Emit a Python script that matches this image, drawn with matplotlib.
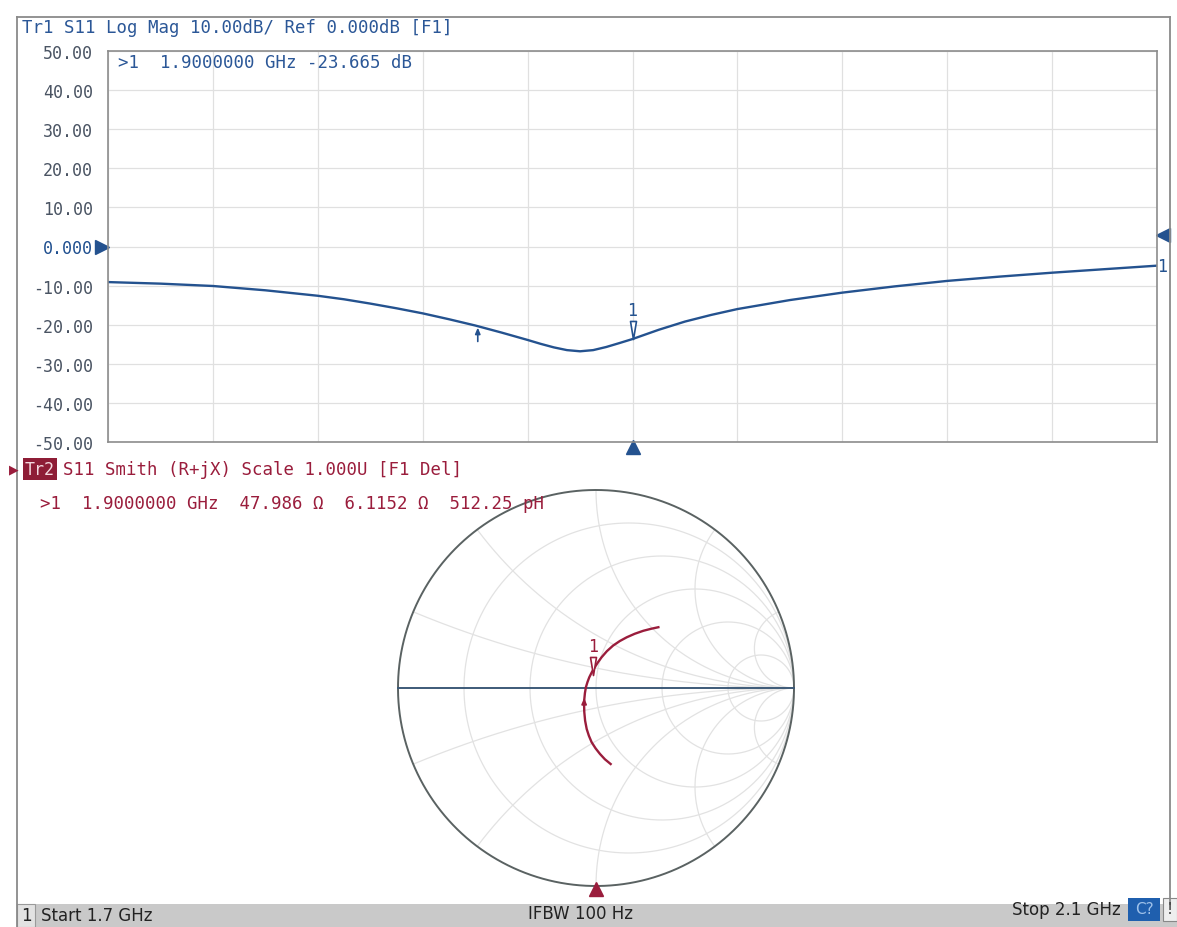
import numpy as np
import matplotlib
matplotlib.use("Agg")
import matplotlib.pyplot as plt
from matplotlib.path import Path
from matplotlib.patches import Rectangle
from matplotlib import transforms as mtransforms

# ---------------- data ----------------
freq_ghz = [1.70, 1.72, 1.74, 1.76, 1.78, 1.79, 1.80, 1.81, 1.82, 1.83, 1.84,
            1.85, 1.86, 1.865, 1.87, 1.875, 1.88, 1.885, 1.89, 1.895,
            1.90, 1.91, 1.92, 1.93, 1.94, 1.96, 1.98, 2.00, 2.02, 2.04,
            2.06, 2.08, 2.10]
s11_db = [-9.1, -9.5, -10.1, -11.2, -12.6, -13.5, -14.6, -15.8, -17.1, -18.6, -20.2,
          -22.0, -23.9, -24.9, -25.8, -26.5, -26.8, -26.5, -25.7, -24.7,
          -23.665, -21.3, -19.2, -17.5, -16.0, -13.7, -11.8, -10.2, -8.8, -7.7,
          -6.7, -5.8, -4.9]

y_ticks = [50, 40, 30, 20, 10, 0, -10, -20, -30, -40, -50]
y_tick_labels = ["50.00", "40.00", "30.00", "20.00", "10.00", "0.000",
                 "-10.00", "-20.00", "-30.00", "-40.00", "-50.00"]

# Smith trace (reflection coefficient), start -> stop
gamma_re = [0.074, 0.045, 0.020, -0.002, -0.022, -0.036, -0.047, -0.055, -0.059,
            -0.060, -0.059, -0.056, -0.051, -0.043, -0.034, -0.021, -0.006,
            0.010, 0.028, 0.055, 0.086, 0.120, 0.155, 0.196, 0.239, 0.278, 0.315]
gamma_im = [-0.384, -0.360, -0.333, -0.305, -0.274, -0.241, -0.207, -0.165, -0.123,
            -0.090, -0.056, -0.026, 0.004, 0.030, 0.054, 0.080, 0.105,
            0.130, 0.155, 0.186, 0.214, 0.237, 0.256, 0.274, 0.289, 0.299, 0.307]

marker_freq = 1.90
marker_db = -23.665
marker_R = 47.986
marker_X = 6.1152
z0 = 50.0
start_freq, stop_freq = 1.7, 2.1
arrow_freq = 1.841
arrow_gamma = (-0.060, -0.085)
ref_level_right = 2.9

smith_r = [0.2, 0.5, 1.0, 2.0, 5.0]
smith_x = [0.2, 0.5, 1.0, 2.0, 5.0, -0.2, -0.5, -1.0, -2.0, -5.0]

# ---------------- style ----------------
W, H = 1177, 928
BLUE = "#24528f"
BLUE_TXT = "#2b5797"
MAROON = "#9a1d3c"
MONO = ["DejaVu Sans Mono"]
NARROW = ["Liberation Sans Narrow", "DejaVu Sans"]

fig = plt.figure(figsize=(W / 100, H / 100), dpi=100)
fig.patch.set_facecolor("white")


def fx(x):
    return x / W


def fy(y):
    return 1 - y / H


# outer frame
fig.add_artist(plt.Line2D([fx(17), fx(17)], [fy(18), fy(928)], color="#8a8a8a", lw=1.3))
fig.add_artist(plt.Line2D([fx(17), fx(1170)], [fy(18), fy(18)], color="#8a8a8a", lw=1.3))
fig.add_artist(plt.Line2D([fx(1170), fx(1170)], [fy(18), fy(905)], color="#8a8a8a", lw=1.3))

# ---------------- upper Log Mag chart ----------------
ax1 = fig.add_axes([fx(108), fy(443), fx(1157) - fx(108), fy(52) - fy(443)])
ax1.set_xlim(start_freq, stop_freq)
ax1.set_ylim(-50, 50)
ax1.set_xticks(np.linspace(start_freq, stop_freq, 11))
ax1.set_yticks(y_ticks)
ax1.set_yticklabels(y_tick_labels, family=MONO, fontsize=12, color="#4a5463")
ax1.tick_params(length=0, labelbottom=False, pad=11)
for lbl, v in zip(ax1.get_yticklabels(), y_ticks):
    if v == 0:
        lbl.set_color("#1f4f8f")
ax1.grid(True, color="#e0e0e0", lw=0.9)
for s in ax1.spines.values():
    s.set_color("#8c8c8c")
    s.set_linewidth(1.2)

ax1.plot(freq_ghz, s11_db, color=BLUE, lw=1.7, solid_joinstyle="round")

# marker 1
tri = Path([(-0.33, 1.0), (0.33, 1.0), (0.0, -1.0), (-0.33, 1.0)],
           [Path.MOVETO, Path.LINETO, Path.LINETO, Path.CLOSEPOLY])
off = mtransforms.offset_copy(ax1.transData, fig=fig, x=0, y=9, units="dots")
ax1.plot([marker_freq], [marker_db], marker=tri, markersize=13, mfc="white",
         mec=BLUE, mew=1.2, transform=off, clip_on=False)
off2 = mtransforms.offset_copy(ax1.transData, fig=fig, x=0, y=20, units="dots")
ax1.text(marker_freq, marker_db, "1", transform=off2, ha="center", va="bottom",
         color=BLUE, fontsize=12, family=MONO)
# small arrow below trace
av = np.interp(arrow_freq, freq_ghz, s11_db)
ax1.annotate("", xy=(arrow_freq, av), xycoords="data",
             xytext=(0, -11), textcoords="offset points",
             arrowprops=dict(arrowstyle="-|>,head_length=0.35,head_width=0.15",
                             color=BLUE, lw=1.2, shrinkA=0, shrinkB=1))
# trace label at right
ax1.text(stop_freq, s11_db[-1], "1", ha="left", va="center", color=BLUE,
         fontsize=12, family=MONO, clip_on=False)
# reference triangles
ax1.plot([-0.006], [0], marker=">", markersize=10, color=BLUE,
         transform=ax1.get_yaxis_transform(), clip_on=False)
ax1.plot([1.006], [ref_level_right], marker="<", markersize=10, color=BLUE,
         transform=ax1.get_yaxis_transform(), clip_on=False)
ax1.plot([marker_freq], [-0.013], marker="^", markersize=10, color=BLUE,
         transform=ax1.get_xaxis_transform(), clip_on=False)

# header texts
fig.text(fx(22), fy(28), "Tr1 S11 Log Mag 10.00dB/ Ref 0.000dB [F1]",
         family=MONO, fontsize=12.5, color=BLUE_TXT, va="center", ha="left")
fig.text(fx(118), fy(63), ">1  1.9000000 GHz -23.665 dB",
         family=MONO, fontsize=12.5, color=BLUE_TXT, va="center", ha="left")

# ---------------- Smith chart ----------------
fig.text(fx(9), fy(470), "▶", family=["DejaVu Sans"], fontsize=9, color=MAROON,
         va="center", ha="left")
fig.text(fx(25), fy(470), "Tr2", family=MONO, fontsize=12, color="#f3d9df",
         va="center", ha="left",
         bbox=dict(facecolor="#8e1d36", edgecolor="none", pad=1.5))
fig.text(fx(63), fy(470), "S11 Smith (R+jX) Scale 1.000U [F1 Del]",
         family=MONO, fontsize=12.5, color=MAROON, va="center", ha="left")
fig.text(fx(40), fy(504), ">1  1.9000000 GHz  47.986 Ω  6.1152 Ω  512.25 pH",
         family=MONO, fontsize=12.5, color=MAROON, va="center", ha="left")

ax2 = fig.add_axes([fx(398), fy(887), 396 / W, 396 / H])
ax2.set_xlim(-1, 1)
ax2.set_ylim(-1, 1)
ax2.axis("off")

t = np.linspace(0, 2 * np.pi, 400)
for r in smith_r:
    c, rad = r / (1 + r), 1 / (1 + r)
    ax2.plot(c + rad * np.cos(t), rad * np.sin(t), color="#e2e2e2", lw=0.9)
rr = np.concatenate([[0], np.logspace(-3, 3, 400)])
for xv in smith_x:
    z = rr + 1j * xv
    g = (z - 1) / (z + 1)
    ax2.plot(g.real, g.imag, color="#e2e2e2", lw=0.9)

ax2.plot(np.cos(t), np.sin(t), color="#5a6262", lw=1.4, clip_on=False)
ax2.plot([-1, 1], [0, 0], color="#3d5a78", lw=1.4, clip_on=False)

ax2.plot(gamma_re, gamma_im, color=MAROON, lw=1.7, solid_joinstyle="round")

zm = complex(marker_R, marker_X) / z0
gm = (zm - 1) / (zm + 1)
offs = mtransforms.offset_copy(ax2.transData, fig=fig, x=0, y=9, units="dots")
ax2.plot([gm.real], [gm.imag], marker=tri, markersize=13, mfc="white",
         mec=MAROON, mew=1.2, transform=offs, clip_on=False)
offs2 = mtransforms.offset_copy(ax2.transData, fig=fig, x=0, y=20, units="dots")
ax2.text(gm.real, gm.imag, "1", transform=offs2, ha="center", va="bottom",
         color=MAROON, fontsize=12, family=MONO)
ax2.annotate("", xy=(arrow_gamma[0], arrow_gamma[1] + 0.035), xycoords="data",
             xytext=(arrow_gamma[0], arrow_gamma[1] - 0.03), textcoords="data",
             arrowprops=dict(arrowstyle="-|>,head_length=0.35,head_width=0.15",
                             color=MAROON, lw=1.2, shrinkA=0, shrinkB=0))

sx = -1 + 2 * (marker_freq - start_freq) / (stop_freq - start_freq)
ax2.plot([sx], [-1.015], marker="^", markersize=10, color=MAROON, clip_on=False)

# ---------------- status bar ----------------
fig.add_artist(Rectangle((fx(17), 0), 1 - fx(17), fy(905), transform=fig.transFigure,
                         facecolor="#c9c9c9", edgecolor="none"))
fig.add_artist(Rectangle((fx(17), 0), fx(35) - fx(17), fy(905), transform=fig.transFigure,
                         facecolor="#e2e2e2", edgecolor="#9a9a9a", lw=0.8))
fig.text(fx(26), fy(916), "1", family=NARROW, fontsize=12, color="#222222",
         ha="center", va="center")
fig.text(fx(41), fy(916), "Start 1.7 GHz", family=NARROW, fontsize=12,
         color="#222222", ha="left", va="center")
fig.text(fx(581), fy(914), "IFBW 100 Hz", family=NARROW, fontsize=12,
         color="#222222", ha="center", va="center")
fig.text(fx(1121), fy(910), "Stop 2.1 GHz", family=NARROW, fontsize=12,
         color="#222222", ha="right", va="center")
fig.add_artist(Rectangle((fx(1128), fy(922)), fx(1160) - fx(1128), fy(899) - fy(922),
                         transform=fig.transFigure, facecolor="#1f5fae", edgecolor="none"))
fig.text(fx(1144), fy(910), "C?", family=NARROW, fontsize=11, color="#9fc2ea",
         ha="center", va="center")
fig.add_artist(Rectangle((fx(1163), fy(922)), fx(1177) - fx(1163), fy(899) - fy(922),
                         transform=fig.transFigure, facecolor="#eeeeee",
                         edgecolor="#888888", lw=0.8))
fig.text(fx(1170), fy(910), "!", family=NARROW, fontsize=11, color="#333333",
         ha="center", va="center")

fig.savefig("out.png", dpi=100)
